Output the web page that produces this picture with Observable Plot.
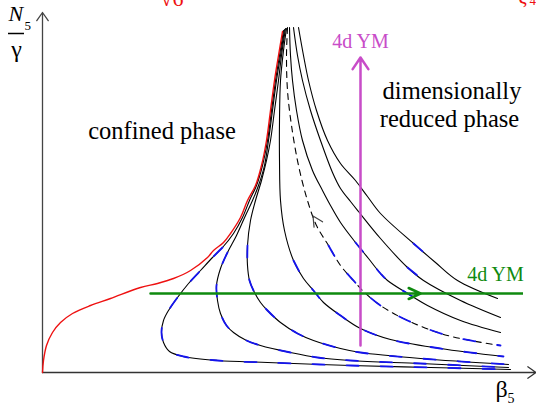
<!DOCTYPE html>
<html>
<head>
<meta charset="utf-8">
<script src="https://cdn.jsdelivr.net/npm/d3@7"></script>
<script src="https://cdn.jsdelivr.net/npm/@observablehq/plot@0.6"></script>
<style>
  body { margin: 0; background: #fff; }
</style>
</head>
<body>
<div id="chart"></div>
<script>
// Phase-boundary (red) and flow curves, as [beta5, N5/gamma] pairs
const redBoundary = [[2.40,3.41],[2.36,3.17],[2.32,2.92],[2.28,2.62],[2.24,2.32],[2.19,2.07],[2.13,1.87],[2.05,1.72],[1.98,1.55],[1.88,1.39],[1.81,1.30],[1.71,1.22],[1.65,1.15],[1.48,1.02],[1.31,0.94],[1.15,0.89],[0.98,0.85],[0.68,0.74],[0.48,0.67],[0.30,0.59],[0.18,0.50],[0.10,0.40],[0.04,0.27],[0.01,0.12],[0,0]];
const curveA = [[2.41,3.42],[2.37,3.17],[2.33,2.92],[2.29,2.62],[2.25,2.32],[2.20,2.07],[2.14,1.87],[2.07,1.72],[2.00,1.55],[1.91,1.39],[1.80,1.25],[1.70,1.15],[1.58,1.02],[1.46,0.89],[1.35,0.75],[1.26,0.62],[1.21,0.52],[1.19,0.40],[1.21,0.30],[1.27,0.21],[1.41,0.16],[1.75,0.12],[2.25,0.10],[3.08,0.07],[3.88,0.05],[4.68,0.03]];
const curveB = [[2.42,3.43],[2.38,3.17],[2.34,2.92],[2.30,2.62],[2.26,2.32],[2.22,2.07],[2.16,1.87],[2.10,1.72],[2.03,1.57],[1.94,1.37],[1.85,1.20],[1.78,1.04],[1.74,0.87],[1.75,0.72],[1.78,0.59],[1.84,0.47],[1.91,0.40],[2.04,0.32],[2.18,0.27],[2.48,0.20],[2.75,0.15],[3.08,0.12],[3.78,0.09],[4.66,0.05]];
const curveC = [[2.43,3.44],[2.39,3.17],[2.36,2.92],[2.32,2.62],[2.28,2.32],[2.24,2.12],[2.19,1.92],[2.13,1.72],[2.08,1.52],[2.05,1.27],[2.05,1.07],[2.07,0.92],[2.11,0.82],[2.18,0.70],[2.25,0.62],[2.38,0.50],[2.55,0.39],[2.71,0.32],[2.98,0.24],[3.18,0.20],[3.78,0.14],[4.66,0.08]];
const curveD = [[2.44,3.44],[2.41,3.22],[2.38,2.92],[2.37,2.52],[2.37,2.12],[2.38,1.72],[2.42,1.42],[2.51,1.12],[2.61,0.94],[2.71,0.82],[2.81,0.70],[2.98,0.57],[3.18,0.44],[3.48,0.33],[3.98,0.24],[4.61,0.16]];
const separatrix = [[2.45,3.45],[2.44,3.17],[2.45,2.82],[2.49,2.47],[2.56,2.07],[2.65,1.72],[2.74,1.47],[2.86,1.27],[2.98,1.07],[3.11,0.92],[3.20,0.82],[3.38,0.67],[3.65,0.52],[4.05,0.37],[4.58,0.27]];
const curveE = [[2.47,3.45],[2.48,3.17],[2.50,2.92],[2.54,2.62],[2.60,2.32],[2.70,2.02],[2.80,1.82],[2.88,1.67],[2.98,1.50],[3.13,1.30],[3.26,1.14],[3.38,0.99],[3.45,0.92],[3.65,0.79],[3.85,0.67],[4.18,0.52],[4.58,0.40]];
const curveF = [[2.51,3.45],[2.55,3.17],[2.60,2.92],[2.68,2.62],[2.78,2.32],[2.90,2.00],[2.98,1.84],[3.08,1.71],[3.16,1.61],[3.38,1.34],[3.65,1.05],[3.81,0.92],[4.18,0.72],[4.58,0.55]];
const curveG = [[2.56,3.45],[2.61,3.17],[2.66,2.92],[2.74,2.62],[2.85,2.32],[2.98,2.09],[3.13,1.92],[3.25,1.76],[3.38,1.59],[3.71,1.29],[3.93,1.10],[4.15,0.92],[4.55,0.74]];

// Where the blue (approximate) overlay is seen on each curve
const blueBelow = 1.30;
const blueUntil = {A: 5, B: 5, C: 5, D: 5, S: 5, E: 4.1, F: 4.1, G: 4.1};

// Reference lines
const ymBeta = 3.18;          // vertical 4d YM path
const ymRange = [0.27, 3.15];
const ymN = 0.79;             // horizontal 4d YM path
const ymBetaRange = [1.08, 4.81];
const ymHeadAt = 3.78;
const separatrixArrow = [2.705, 1.565];
const axisEnds = {x: 4.935, y: 3.60};

const toRows = (id, pts) => pts.map(([x, y]) => ({id, x, y}));
const solid = [
  ...toRows("A", curveA), ...toRows("B", curveB), ...toRows("C", curveC), ...toRows("D", curveD),
  ...toRows("E", curveE), ...toRows("F", curveF), ...toRows("G", curveG)
];
const dashed = toRows("S", separatrix);
const blue = [...solid, ...dashed].filter(d => d.y <= blueBelow && d.x <= blueUntil[d.id]);
const red = toRows("red", redBoundary);

const serif = "'Liberation Serif', 'Times New Roman', serif";
const magenta = "#c84cc8";
const green = "#0f8a0f";

const chart = Plot.plot({
  width: 536,
  height: 403,
  marginLeft: 42,
  marginRight: 0,
  marginTop: 0,
  marginBottom: 31,
  x: {domain: [0, 4.94], axis: null},
  y: {domain: [0, 3.72], axis: null},
  style: {fontFamily: serif, background: "white"},
  marks: [
    // axes with arrowheads
    Plot.arrow([{x1: 0, y1: 0, x2: axisEnds.x, y2: 0}], {x1: "x1", y1: "y1", x2: "x2", y2: "y2", stroke: "#333", strokeWidth: 1.3, headLength: 11.5, headAngle: 70}),
    Plot.arrow([{x1: 0, y1: 0, x2: 0, y2: axisEnds.y}], {x1: "x1", y1: "y1", x2: "x2", y2: "y2", stroke: "#444", strokeWidth: 1.3, headLength: 11.5, headAngle: 70}),
    // flow curves
    Plot.line(solid, {x: "x", y: "y", z: "id", curve: "catmull-rom", stroke: "black", strokeWidth: 1.1}),
    Plot.line(dashed, {x: "x", y: "y", z: "id", curve: "catmull-rom", stroke: "black", strokeWidth: 1.1, strokeDasharray: "6,5"}),
    Plot.line(blue, {x: "x", y: "y", z: "id", curve: "catmull-rom", stroke: "#1414ee", strokeWidth: 1.8, strokeDasharray: "12,22"}),
    Plot.line(red, {x: "x", y: "y", curve: "catmull-rom", stroke: "#ee1111", strokeWidth: 1.4}),
    // arrowhead on the separatrix
    Plot.vector([{x: separatrixArrow[0], y: separatrixArrow[1]}], {
      x: "x", y: "y", rotate: -32, length: 10, anchor: "start", stroke: "#444", strokeWidth: 1.2, fill: "none",
      shape: {draw(context) { context.moveTo(-5, 10); context.lineTo(0, 0); context.lineTo(5, 10); }}
    }),
    // 4d YM paths
    Plot.arrow([{x1: ymBeta, y1: ymRange[0], x2: ymBeta, y2: ymRange[1]}], {x1: "x1", y1: "y1", x2: "x2", y2: "y2", stroke: magenta, strokeWidth: 2.5, headLength: 8.4, headAngle: 68}),
    Plot.ruleY([ymN], {x1: ymHeadAt, x2: ymBetaRange[1], stroke: green, strokeWidth: 2.5}),
    Plot.arrow([{x1: ymBetaRange[0], y1: ymN, x2: ymHeadAt, y2: ymN}], {x1: "x1", y1: "y1", x2: "x2", y2: "y2", stroke: green, strokeWidth: 2.5, headLength: 7.8, headAngle: 50}),
    // labels
    Plot.text(["4d YM"], {x: ymBeta, y: 3.25, text: d => d, fill: magenta, fontSize: 20, fontFamily: serif, lineAnchor: "bottom"}),
    Plot.text(["4d YM"], {x: 4.53, y: 0.92, text: d => d, fill: green, fontSize: 20, fontFamily: serif, lineAnchor: "bottom"}),
    Plot.text(["confined phase"], {x: 1.195, y: 2.34, text: d => d, fill: "black", fontSize: 24.5, fontFamily: serif, lineAnchor: "bottom"}),
    Plot.text(["dimensionally"], {x: 4.095, y: 2.74, text: d => d, fill: "black", fontSize: 24.5, fontFamily: serif, lineAnchor: "bottom"}),
    Plot.text(["reduced phase"], {x: 4.07, y: 2.46, text: d => d, fill: "black", fontSize: 24.5, fontFamily: serif, lineAnchor: "bottom"}),
    // axis titles
    Plot.text(["N"], {x: -0.34, y: 3.52, text: d => d, fill: "black", fontSize: 22, fontStyle: "italic", fontFamily: serif, textAnchor: "start", lineAnchor: "bottom"}),
    Plot.text(["5"], {x: -0.18, y: 3.43, text: d => d, fill: "black", fontSize: 13, fontFamily: serif, textAnchor: "start", lineAnchor: "bottom"}),
    Plot.ruleY([3.39], {x1: -0.34, x2: -0.18, stroke: "black", strokeWidth: 1.5}),
    Plot.text(["γ"], {x: -0.26, y: 3.16, text: d => d, fill: "black", fontSize: 24, fontFamily: serif, lineAnchor: "bottom"}),
    Plot.text(["β"], {x: 4.53, y: -0.24, text: d => d, fill: "black", fontSize: 24, fontFamily: serif, textAnchor: "start", lineAnchor: "bottom"}),
    Plot.text(["5"], {x: 4.65, y: -0.305, text: d => d, fill: "black", fontSize: 14, fontFamily: serif, textAnchor: "start", lineAnchor: "bottom"}),
    // partially visible red labels at the top edge
    Plot.text(["√6"], {x: 1.18, y: 3.67, text: d => d, fill: "#ee1111", fontSize: 22, fontFamily: serif, textAnchor: "start", lineAnchor: "bottom"}),
    Plot.text(["ζ"], {x: 4.76, y: 3.70, text: d => d, fill: "#ee1111", fontSize: 20, fontFamily: serif, textAnchor: "start", lineAnchor: "bottom"}),
    Plot.text(["4"], {x: 4.87, y: 3.68, text: d => d, fill: "#ee1111", fontSize: 13, fontFamily: serif, textAnchor: "start", lineAnchor: "bottom"})
  ]
});
document.getElementById("chart").appendChild(chart);
</script>
</body>
</html>
